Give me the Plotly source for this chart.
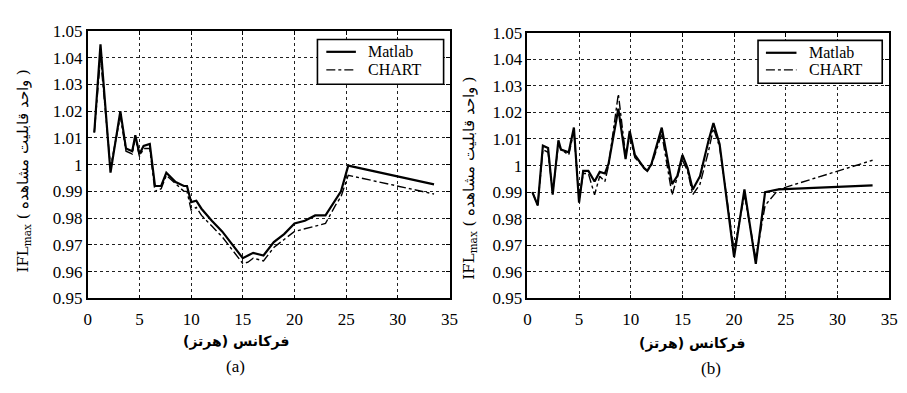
import plotly.graph_objects as go

# ---------- data (a) ----------
freq_a = [0.63, 1.23, 2.2, 3.15, 3.7, 4.3, 4.6, 5.0, 5.4, 6.0, 6.5, 7.1, 7.6, 8.5, 9.3, 9.6,
          10.0, 10.5, 11.0, 12.0, 13.0, 14.0, 15.0, 15.5, 16.0, 17.0, 18.0, 19.0, 20.0,
          21.0, 22.0, 23.0, 24.0, 24.5, 25.2, 33.5]
matlab_a = [1.012, 1.045, 0.997, 1.020, 1.006, 1.005, 1.011, 1.004, 1.007, 1.0077, 0.992, 0.992,
            0.997, 0.9935, 0.992, 0.992, 0.986, 0.9865, 0.9835, 0.979, 0.975, 0.970, 0.965,
            0.966, 0.967, 0.966, 0.971, 0.974, 0.978, 0.979, 0.981, 0.981, 0.987, 0.990,
            0.9996, 0.9926]
chart_a = [1.012, 1.040, 0.999, 1.018, 1.005, 1.004, 1.010, 1.003, 1.006, 1.006, 0.990, 0.991,
           0.996, 0.993, 0.990, 0.990, 0.983, 0.984, 0.981, 0.977, 0.973, 0.968, 0.963,
           0.9635, 0.965, 0.964, 0.969, 0.972, 0.975, 0.976, 0.977, 0.978, 0.985, 0.988,
           0.996, 0.989]

# ---------- data (b) ----------
freq_b = [0.48, 1.0, 1.5, 2.0, 2.45, 3.0, 3.25, 4.0, 4.5, 5.0, 5.4, 5.9, 6.5, 7.0, 7.5, 7.85,
          8.8, 9.5, 9.9, 10.4, 11.3, 11.6, 12.0, 13.0, 14.0, 14.5, 15.0, 15.5, 16.0, 16.7,
          17.5, 18.0, 18.6, 20.0, 21.0, 22.1, 23.0, 24.3, 33.4]
matlab_b = [0.990, 0.985, 1.0075, 1.0066, 0.989, 1.0095, 1.006, 1.005, 1.0143, 0.986, 0.998,
            0.998, 0.994, 0.9976, 0.997, 1.0006, 1.0214, 1.0024, 1.013, 1.004, 0.999, 0.998,
            1.0006, 1.0143, 0.993, 0.996, 1.004, 0.999, 0.991, 0.996, 1.009, 1.016, 1.008,
            0.9655, 0.991, 0.963, 0.990, 0.991, 0.9925]
chart_b = [0.990, 0.985, 1.006, 1.005, 0.990, 1.008, 1.006, 1.004, 1.013, 0.987, 0.997,
           0.997, 0.989, 0.996, 0.994, 1.000, 1.027, 1.004, 1.011, 1.003, 0.999, 0.998,
           1.000, 1.012, 0.989, 0.996, 1.002, 0.998, 0.989, 0.993, 1.005, 1.014, 1.007,
           0.968, 0.989, 0.965, 0.985, 0.991, 1.002]

y_ticks = [0.95, 0.96, 0.97, 0.98, 0.99, 1.0, 1.01, 1.02, 1.03, 1.04, 1.05]
y_ticktext = ["0.95", "0.96", "0.97", "0.98", "0.99", "1", "1.01", "1.02", "1.03", "1.04", "1.05"]
x_ticks = [0, 5, 10, 15, 20, 25, 30, 35]

series_names = ["Matlab", "CHART"]
x_title = "فرکانس (هرتز)"
y_title = "IFL<sub>max</sub> ( واحد قابلیت مشاهده )"
captions = ["(a)", "(b)"]

FONT = "Liberation Serif, Times New Roman, serif"
W, H = 907, 393

fig = go.Figure()
fig.add_trace(go.Scatter(x=freq_a, y=matlab_a, name=series_names[0], mode="lines",
                         line=dict(color="black", width=2.2), xaxis="x", yaxis="y"))
fig.add_trace(go.Scatter(x=freq_a, y=chart_a, name=series_names[1], mode="lines",
                         line=dict(color="black", width=1.4, dash="dashdot"), xaxis="x", yaxis="y"))
fig.add_trace(go.Scatter(x=freq_b, y=matlab_b, name=series_names[0], mode="lines",
                         line=dict(color="black", width=2.2), xaxis="x2", yaxis="y2"))
fig.add_trace(go.Scatter(x=freq_b, y=chart_b, name=series_names[1], mode="lines",
                         line=dict(color="black", width=1.4, dash="dashdot"), xaxis="x2", yaxis="y2"))

ax_common = dict(showline=True, linecolor="black", linewidth=1.6, mirror="allticks",
                 ticks="inside", ticklen=4, tickcolor="black",
                 showgrid=True, gridcolor="#222", griddash="dot", gridwidth=1,
                 zeroline=False, tickfont=dict(family=FONT, size=17, color="black"))

fig.update_layout(
    width=W, height=H, margin=dict(l=0, r=0, t=0, b=0),
    paper_bgcolor="white", plot_bgcolor="white", showlegend=False,
    xaxis=dict(domain=[85 / W, 452 / W], range=[0, 35], tickvals=x_ticks, anchor="y",
               ticklabelstandoff=4, **ax_common),
    yaxis=dict(domain=[1 - 304 / H, 1 - 23 / H], range=[0.95, 1.05], tickvals=y_ticks,
               ticktext=y_ticktext, anchor="x", **ax_common),
    xaxis2=dict(domain=[531 / W, 898 / W], range=[0, 35], tickvals=x_ticks, anchor="y2",
                ticklabelstandoff=4, **ax_common),
    yaxis2=dict(domain=[1 - 304 / H, 1 - 25 / H], range=[0.95, 1.05], tickvals=y_ticks,
                ticktext=y_ticktext, anchor="x2", **ax_common),
)

def px(x, y):
    return x / W, 1 - y / H

# manual legends (box, line samples, labels)
for (bx0, by0, bx1, by1, lx0, lx1, tx, y1, y2) in [
    (318, 32, 446, 79, 327, 357, 367, 45, 64),
    (765, 33, 891, 78, 773, 804, 815, 46, 64),
]:
    x0, ya = px(bx0, by0)
    x1, yb = px(bx1, by1)
    fig.add_shape(type="rect", xref="paper", yref="paper", x0=x0, x1=x1, y0=yb, y1=ya,
                  line=dict(color="black", width=1.6), fillcolor="white", layer="above")
    for yy, dash, wd in [(y1, "solid", 2.2), (y2, "dashdot", 1.4)]:
        fig.add_shape(type="line", xref="paper", yref="paper", x0=lx0 / W, x1=lx1 / W,
                      y0=1 - yy / H, y1=1 - yy / H, line=dict(color="black", width=wd, dash=dash),
                      layer="above")
    for yy, name in [(y1, series_names[0]), (y2, series_names[1])]:
        fig.add_annotation(x=tx / W, y=1 - yy / H, xref="paper", yref="paper", text=name,
                           showarrow=False, xanchor="left", yanchor="middle",
                           font=dict(family=FONT, size=16, color="black"))

ann_font = dict(family="DejaVu Sans, sans-serif", size=14, color="black")
for xc, ycap, xt, yt, yx, yy, cap in [
    (235, 349, 235, 376, 20, 170, captions[0]),
    (698, 351, 717, 378, 472, 178, captions[1]),
]:
    fig.add_annotation(x=xc / W, y=1 - ycap / H, xref="paper", yref="paper",
                       text="<b>" + x_title + "</b>",
                       showarrow=False, font=ann_font, xanchor="center", yanchor="middle")
    fig.add_annotation(x=xt / W, y=1 - yt / H, xref="paper", yref="paper", text=cap,
                       showarrow=False, font=dict(family=FONT, size=17, color="black"),
                       xanchor="center", yanchor="middle")
    fig.add_annotation(x=yx / W, y=1 - yy / H, xref="paper", yref="paper", text=y_title,
                       showarrow=False, font=dict(family="DejaVu Serif, serif", size=15, color="black"),
                       textangle=-90, xanchor="center", yanchor="middle")

fig.write_html("out.html")
